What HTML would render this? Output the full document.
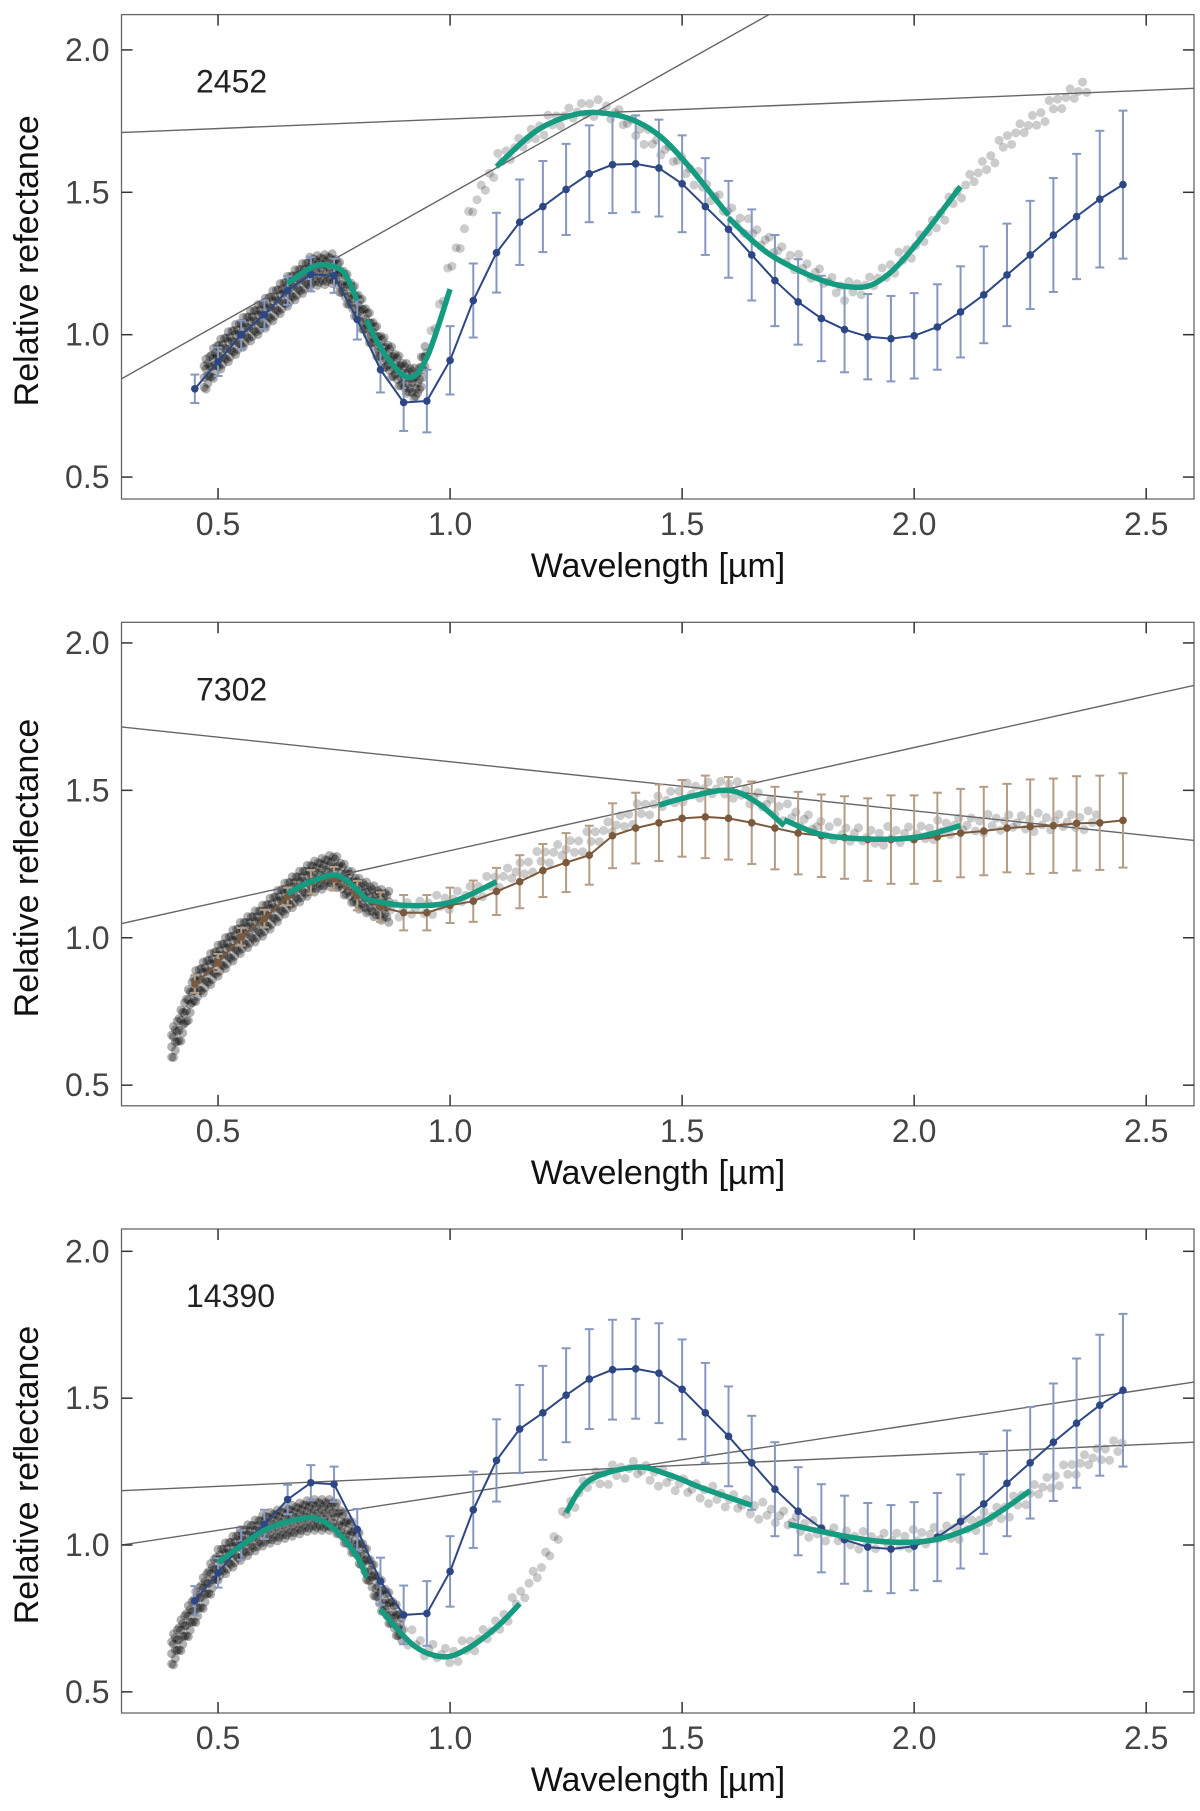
<!DOCTYPE html>
<html><head><meta charset="utf-8"><style>
html,body{margin:0;padding:0;background:#fff;}
svg{display:block;font-family:"Liberation Sans",sans-serif;}
</style></head><body>
<svg id="fig" width="1200" height="1811" viewBox="0 0 1200 1811"></svg>
<script>
// ---------- data ----------
const waves = [0.45,0.5,0.55,0.6,0.65,0.7,0.75,0.8,0.85,0.9,0.95,1.0,1.05,1.1,1.15,1.2,1.25,1.3,1.35,1.4,1.45,1.5,1.55,1.6,1.65,1.7,1.75,1.8,1.85,1.9,1.95,2.0,2.05,2.1,2.15,2.2,2.25,2.3,2.35,2.4,2.45];
const blueMean = [0.81,0.905,1.0,1.07,1.155,1.212,1.207,1.053,0.877,0.762,0.767,0.91,1.12,1.288,1.395,1.45,1.51,1.565,1.597,1.6,1.585,1.53,1.45,1.37,1.28,1.19,1.115,1.057,1.018,0.993,0.986,0.996,1.027,1.08,1.14,1.21,1.28,1.35,1.415,1.476,1.527];
const blueErr = [0.05,0.05,0.05,0.05,0.05,0.06,0.06,0.07,0.08,0.1,0.11,0.12,0.13,0.14,0.15,0.16,0.16,0.17,0.17,0.17,0.17,0.17,0.17,0.17,0.16,0.16,0.15,0.15,0.15,0.15,0.15,0.15,0.15,0.16,0.17,0.18,0.19,0.2,0.22,0.24,0.26];
const brownMean = [0.843,0.915,1.003,1.065,1.14,1.19,1.2,1.143,1.104,1.085,1.085,1.11,1.124,1.157,1.19,1.228,1.255,1.28,1.346,1.372,1.39,1.405,1.41,1.405,1.39,1.372,1.355,1.346,1.34,1.333,1.333,1.333,1.342,1.355,1.362,1.372,1.377,1.38,1.388,1.39,1.398];
const brownErr = [0.03,0.03,0.03,0.03,0.03,0.04,0.04,0.05,0.05,0.06,0.06,0.06,0.07,0.08,0.09,0.09,0.1,0.1,0.11,0.12,0.13,0.13,0.14,0.14,0.14,0.14,0.14,0.14,0.14,0.14,0.15,0.15,0.15,0.15,0.15,0.15,0.16,0.16,0.16,0.16,0.16];

const spec1 = [[0.47,0.85],[0.5,0.92],[0.55,1.0],[0.6,1.07],[0.65,1.15],[0.7,1.22],[0.75,1.23],[0.8,1.1],[0.85,0.95],[0.9,0.85],[0.93,0.82],[1.0,1.23],[1.05,1.45],[1.1,1.6],[1.2,1.73],[1.3,1.8],[1.35,1.78],[1.4,1.72],[1.5,1.6],[1.6,1.43],[1.7,1.3],[1.8,1.2],[1.85,1.15],[1.9,1.17],[2.0,1.3],[2.1,1.5],[2.2,1.68],[2.3,1.8],[2.38,1.88]];
const spec2 = [[0.4,0.63],[0.42,0.7],[0.45,0.83],[0.5,0.92],[0.55,1.0],[0.6,1.06],[0.65,1.14],[0.7,1.2],[0.75,1.23],[0.8,1.15],[0.85,1.11],[0.9,1.09],[1.0,1.12],[1.1,1.19],[1.2,1.27],[1.3,1.33],[1.4,1.42],[1.5,1.49],[1.6,1.51],[1.7,1.44],[1.8,1.37],[1.9,1.34],[2.0,1.35],[2.1,1.38],[2.2,1.39],[2.3,1.39],[2.4,1.4]];
const spec3 = [[0.4,0.63],[0.45,0.78],[0.5,0.93],[0.55,1.0],[0.6,1.05],[0.7,1.1],[0.75,1.1],[0.8,1.0],[0.85,0.83],[0.9,0.7],[0.95,0.64],[1.0,0.62],[1.05,0.66],[1.1,0.72],[1.15,0.82],[1.2,0.93],[1.25,1.11],[1.3,1.22],[1.4,1.26],[1.5,1.2],[1.6,1.15],[1.7,1.1],[1.8,1.04],[1.9,1.01],[2.0,1.02],[2.1,1.05],[2.2,1.12],[2.3,1.22],[2.4,1.31],[2.45,1.33]];

const green1 = [[[0.65,1.18],[0.7,1.235],[0.73,1.245],[0.77,1.22],[0.8,1.12]],[[0.82,1.05],[0.86,0.93],[0.91,0.85],[0.95,0.92],[1.0,1.16]],[[1.1,1.59],[1.2,1.73],[1.32,1.78],[1.45,1.7],[1.6,1.42]],[[1.6,1.41],[1.7,1.27],[1.85,1.17],[1.95,1.22],[2.1,1.52]]];
const green2 = [[[0.65,1.15],[0.7,1.19],[0.76,1.21],[0.82,1.13]],[[0.82,1.13],[0.9,1.11],[1.0,1.12],[1.1,1.19]],[[1.45,1.45],[1.52,1.48],[1.6,1.5],[1.66,1.46],[1.72,1.38]],[[1.72,1.4],[1.8,1.35],[1.9,1.335],[2.0,1.34],[2.1,1.38]]];
const green3 = [[[0.5,0.94],[0.6,1.05],[0.68,1.09],[0.72,1.085],[0.76,1.04],[0.8,0.96],[0.82,0.89]],[[0.85,0.78],[0.92,0.66],[0.98,0.62],[1.03,0.64],[1.1,0.72],[1.15,0.8]],[[1.25,1.11],[1.3,1.22],[1.4,1.265],[1.47,1.24],[1.55,1.19],[1.65,1.135]],[[1.73,1.07],[1.85,1.03],[1.95,1.01],[2.05,1.02],[2.15,1.08],[2.25,1.185]]];

const lines1 = [[[0.292,0.845],[1.687,2.124]],[[0.292,1.71],[2.603,1.865]]];
const lines2 = [[[0.292,1.048],[2.603,1.856]],[[0.292,1.715],[2.603,1.33]]];
const lines3 = [[[0.292,1.0],[2.603,1.555]],[[0.292,1.185],[2.603,1.35]]];

const xTicks = [0.5,1.0,1.5,2.0,2.5];
const yTicks = [0.5,1.0,1.5,2.0];

// ---------- drawing ----------
const NS="http://www.w3.org/2000/svg";
const svg=document.getElementById('fig');
function mk(tag,attrs,parent){const e=document.createElementNS(NS,tag);for(const k in attrs)e.setAttribute(k,attrs[k]);(parent||svg).appendChild(e);return e;}
const X0=121.5,X1=1194,XMIN=0.292,XMAX=2.603;
const jitter=[0.0,0.04,-0.035,0.02,-0.05,0.055,-0.012,0.03,-0.04,0.01,0.045,-0.025];
function interp(spec,x){for(let i=0;i<spec.length-1;i++){if(x>=spec[i][0]&&x<=spec[i+1][0]){const t=(x-spec[i][0])/(spec[i+1][0]-spec[i][0]);return spec[i][1]+t*(spec[i+1][1]-spec[i][1]);}}return null;}
function catmull(pts){let d=`M${pts[0][0]},${pts[0][1]}`;for(let i=0;i<pts.length-1;i++){const p0=pts[i-1]||pts[i],p1=pts[i],p2=pts[i+1],p3=pts[i+2]||p2;d+=` C${p1[0]+(p2[0]-p0[0])/6},${p1[1]+(p2[1]-p0[1])/6} ${p2[0]-(p3[0]-p1[0])/6},${p2[1]-(p3[1]-p1[1])/6} ${p2[0]},${p2[1]}`;}return d;}

function panel(cfg){
  const {top,bot,ymin,ymax,label,ytitle,mean,err,col,ecol,spec,denseEnd,green,lines,key}=cfg;
  const g=mk('g',{});
  
  
  const sx=v=>X0+(v-XMIN)/(XMAX-XMIN)*(X1-X0);
  const sy=v=>bot-(v-ymin)/(ymax-ymin)*(bot-top);
  const cid='clip-'+key;
  const cp=mk('clipPath',{id:cid},g);mk('rect',{x:X0,y:top,width:X1-X0,height:bot-top},cp);
  const pg=mk('g',{'clip-path':`url(#${cid})`},g);
  const sg=mk('g',{},pg);
  
  
  let k=0;
  for(let x=spec[0][0];x<=spec[spec.length-1][0]+1e-9;){
    const y=interp(spec,x);const dense=x<denseEnd;
    const n=dense?3:1;
    for(let j=0;j<n;j++){const jy=jitter[(k++)%jitter.length]*(dense?1:0.6);
      mk('circle',{cx:sx(x),cy:sy(y+jy),r:4.5,fill:dense?'rgba(0,0,0,0.3)':'rgba(0,0,0,0.2)'},sg);}
    x+=dense?0.004:0.009;
  }
  lines.forEach((l,i)=>{const e=mk('line',{x1:sx(l[0][0]),y1:sy(l[0][1]),x2:sx(l[1][0]),y2:sy(l[1][1]),stroke:'#666','stroke-width':1.4},pg);
    
    });
  waves.forEach((w,i)=>{const x=sx(w),y1=sy(mean[i]-err[i]),y2=sy(mean[i]+err[i]);
    mk('line',{x1:x,x2:x,y1:y1,y2:y2,stroke:ecol,'stroke-width':2},pg);
    mk('line',{x1:x-4.5,x2:x+4.5,y1:y1,y2:y1,stroke:ecol,'stroke-width':2},pg);
    mk('line',{x1:x-4.5,x2:x+4.5,y1:y2,y2:y2,stroke:ecol,'stroke-width':2},pg);});
  const pl=mk('polyline',{points:waves.map((w,i)=>sx(w)+','+sy(mean[i])).join(' '),fill:'none',stroke:col,'stroke-width':2},pg);
  
  
  waves.forEach((w,i)=>{const c=mk('circle',{cx:sx(w),cy:sy(mean[i]),r:3.8,fill:col},pg);
    
    });
  green.forEach((seg,i)=>{const p=mk('path',{d:catmull(seg.map(q=>[sx(q[0]),sy(q[1])])),fill:'none',stroke:'#149b80','stroke-width':5.5},pg);
    
    });
  const fr=mk('rect',{x:X0,y:top,width:X1-X0,height:bot-top,fill:'none',stroke:'#666','stroke-width':1.3},g);
  
  
  xTicks.forEach(t=>{const x=sx(t);
    mk('line',{x1:x,x2:x,y1:bot,y2:bot-11,stroke:'#333','stroke-width':1.5},g);
    mk('line',{x1:x,x2:x,y1:top,y2:top+11,stroke:'#333','stroke-width':1.5},g);
    const tx=mk('text',{x:x,y:bot+36,'font-size':32,fill:'#444','text-anchor':'middle'},g);tx.textContent=t.toFixed(1);
    
    });
  yTicks.forEach(t=>{const y=sy(t);
    mk('line',{x1:X0,x2:X0+11,y1:y,y2:y,stroke:'#333','stroke-width':1.5},g);
    mk('line',{x1:X1,x2:X1-11,y1:y,y2:y,stroke:'#333','stroke-width':1.5},g);
    const tx=mk('text',{x:X0-12,y:y+11,'font-size':32,fill:'#444','text-anchor':'end'},g);tx.textContent=t.toFixed(1);
    
    });
  const xt=mk('text',{x:658,y:bot+78,'font-size':34,fill:'#111','text-anchor':'middle'},g);xt.textContent='Wavelength [µm]';
  
  
  const cy=(top+bot)/2+4;
  const yt=mk('text',{x:0,y:0,'font-size':34,fill:'#111','text-anchor':'middle',transform:`translate(38,${cy}) rotate(-90)`},g);yt.textContent=ytitle;
  
  
  const lb=mk('text',{x:label.length>4?186:196,y:top+78,'font-size':32,fill:'#222'},g);lb.textContent=label;
  
  
}
panel({key:'a2452',top:14.6,bot:499,ymin:0.423,ymax:2.124,label:'2452',ytitle:'Relative refectance',mean:blueMean,err:blueErr,col:'#2d4784',ecol:'#8798c0',spec:spec1,denseEnd:0.95,green:green1,lines:lines1});
panel({key:'a7302',top:622.3,bot:1105.8,ymin:0.43,ymax:2.07,label:'7302',ytitle:'Relative reflectance',mean:brownMean,err:brownErr,col:'#7b593c',ecol:'#b59c84',spec:spec2,denseEnd:0.87,green:green2,lines:lines2});
panel({key:'a14390',top:1229,bot:1713,ymin:0.428,ymax:2.076,label:'14390',ytitle:'Relative reflectance',mean:blueMean,err:blueErr,col:'#2d4784',ecol:'#8798c0',spec:spec3,denseEnd:0.9,green:green3,lines:lines3});
</script>
</body></html>
